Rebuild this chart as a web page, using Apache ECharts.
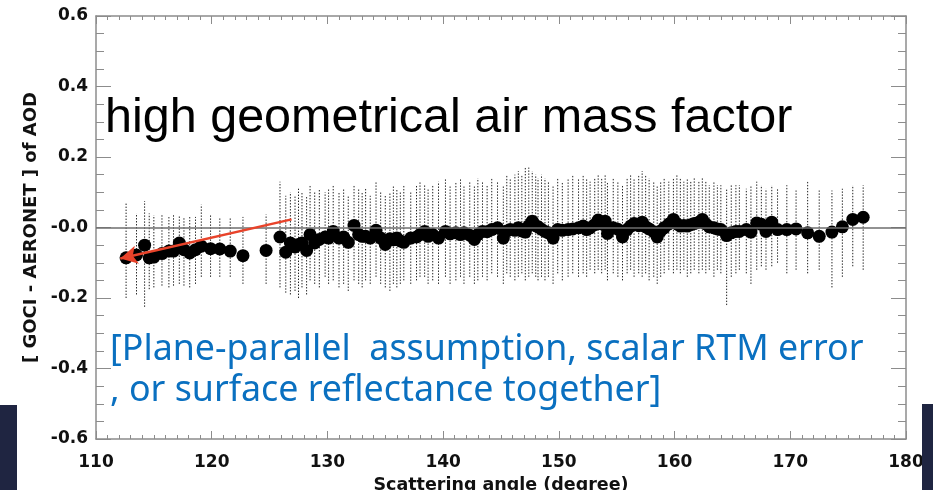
<!DOCTYPE html>
<html>
<head>
<meta charset="utf-8">
<script src="https://cdn.jsdelivr.net/npm/echarts@6/dist/echarts.min.js"></script>
<style>
  html, body { margin: 0; padding: 0; background: #ffffff; }
  #chart { width: 933px; height: 490px; }
</style>
</head>
<body>
<div id="chart"></div>
<script>
// Scattering angle (degree) of each bin
const angle = [
  112.6, 113.5, 114.2, 114.6, 115.0, 115.7, 116.3, 116.7, 117.2, 117.6,
  118.1, 118.6, 119.1, 119.9, 120.7, 121.6, 122.7, 124.7, 125.9, 126.4,
  126.8, 127.2, 127.5, 127.8, 128.2, 128.5, 128.9, 129.3, 129.8, 130.1,
  130.5, 131.0, 131.4, 131.8, 132.3, 132.7, 133.0, 133.3, 133.7, 134.2,
  134.6, 135.0, 135.4, 135.7, 136.0, 136.3, 136.6, 137.2, 137.7, 138.0,
  138.4, 138.7, 139.1, 139.6, 140.2, 140.6, 141.1, 141.5, 141.8, 142.3,
  142.7, 143.0, 143.4, 143.8, 144.2, 144.7, 145.2, 145.5, 145.8, 146.2,
  146.5, 146.8, 147.1, 147.4, 147.7, 148.0, 148.2, 148.5, 148.8, 149.1,
  149.5, 149.9, 150.3, 150.8, 151.2, 151.7, 152.1, 152.4, 152.7, 153.1,
  153.4, 153.7, 154.0, 154.2, 154.7, 155.1, 155.5, 155.9, 156.2, 156.5,
  156.9, 157.2, 157.5, 157.8, 158.2, 158.5, 158.8, 159.1, 159.5, 159.9,
  160.2, 160.5, 160.8, 161.1, 161.4, 161.7, 162.1, 162.4, 162.7, 163.0,
  163.4, 163.7, 164.0, 164.5, 164.9, 165.3, 165.6, 166.2, 166.6, 167.1,
  167.5, 167.9, 168.4, 168.9, 169.7, 170.5, 171.5, 172.5, 173.6, 174.5,
  175.4, 176.3
];

// Mean AOD difference (GOCI - AERONET) per bin
const aodDiff = [
  -0.086, -0.078, -0.050, -0.086, -0.084, -0.074, -0.067, -0.067, -0.044, -0.063,
  -0.072, -0.063, -0.053, -0.060, -0.061, -0.067, -0.080, -0.065, -0.027, -0.070,
  -0.044, -0.055, -0.048, -0.044, -0.065, -0.020, -0.044, -0.034, -0.027, -0.030,
  -0.011, -0.030, -0.027, -0.042, 0.006, -0.020, -0.025, -0.025, -0.030, -0.008,
  -0.030, -0.048, -0.032, -0.035, -0.030, -0.038, -0.042, -0.030, -0.027, -0.020,
  -0.011, -0.025, -0.020, -0.030, -0.011, -0.018, -0.015, -0.020, -0.015, -0.022,
  -0.034, -0.020, -0.011, -0.012, -0.006, -0.001, -0.030, -0.010, -0.006, -0.008,
  -0.001, -0.010, -0.013, 0.005, 0.018, 0.005, 0.002, -0.005, -0.011, -0.015,
  -0.030, -0.006, -0.008, -0.006, -0.004, -0.001, 0.004, -0.006, -0.001, 0.008,
  0.021, 0.010, 0.018, -0.017, -0.001, -0.005, -0.027, -0.006, 0.004, 0.011,
  0.005, 0.015, 0.002, -0.004, -0.012, -0.027, -0.010, -0.001, 0.010, 0.023,
  0.010, 0.004, 0.006, 0.004, 0.008, 0.011, 0.015, 0.023, 0.010, 0.002,
  -0.001, -0.004, -0.006, -0.023, -0.015, -0.011, -0.011, -0.006, -0.013, 0.013,
  0.009, -0.011, 0.015, -0.006, -0.006, -0.004, -0.015, -0.025, -0.013, 0.002,
  0.023, 0.029
];

// Upper end of each error bar
const errHigh = [
  0.070, 0.040, 0.075, 0.040, 0.035, 0.035, 0.030, 0.035, 0.035, 0.030,
  0.030, 0.030, 0.065, 0.037, 0.026, 0.026, 0.030, 0.037, 0.130, 0.090,
  0.100, 0.090, 0.110, 0.100, 0.090, 0.120, 0.100, 0.110, 0.100, 0.110,
  0.120, 0.100, 0.110, 0.090, 0.120, 0.110, 0.100, 0.110, 0.090, 0.130,
  0.100, 0.090, 0.100, 0.120, 0.110, 0.100, 0.120, 0.100, 0.120, 0.130,
  0.120, 0.110, 0.120, 0.130, 0.140, 0.120, 0.130, 0.140, 0.120, 0.130,
  0.120, 0.140, 0.130, 0.120, 0.140, 0.130, 0.120, 0.150, 0.140, 0.150,
  0.160, 0.150, 0.170, 0.170, 0.160, 0.150, 0.140, 0.150, 0.140, 0.130,
  0.120, 0.140, 0.130, 0.140, 0.150, 0.140, 0.150, 0.140, 0.130, 0.140,
  0.150, 0.140, 0.150, 0.130, 0.140, 0.130, 0.120, 0.140, 0.150, 0.140,
  0.150, 0.160, 0.150, 0.140, 0.130, 0.120, 0.130, 0.140, 0.130, 0.140,
  0.150, 0.140, 0.130, 0.140, 0.130, 0.140, 0.130, 0.140, 0.130, 0.120,
  0.130, 0.120, 0.120, 0.110, 0.120, 0.120, 0.120, 0.110, 0.120, 0.130,
  0.120, 0.110, 0.120, 0.110, 0.120, 0.105, 0.130, 0.105, 0.105, 0.110,
  0.120, 0.120
];

// Lower end of each error bar
const errLow = [
  -0.200, -0.190, -0.225, -0.175, -0.170, -0.165, -0.170, -0.165, -0.160, -0.165,
  -0.170, -0.160, -0.140, -0.140, -0.140, -0.140, -0.160, -0.160, -0.170, -0.185,
  -0.190, -0.180, -0.200, -0.170, -0.190, -0.150, -0.160, -0.170, -0.140, -0.160,
  -0.150, -0.170, -0.160, -0.180, -0.150, -0.160, -0.170, -0.150, -0.160, -0.140,
  -0.160, -0.170, -0.180, -0.160, -0.170, -0.160, -0.150, -0.160, -0.150, -0.140,
  -0.140, -0.160, -0.150, -0.160, -0.140, -0.160, -0.150, -0.140, -0.160, -0.140,
  -0.160, -0.150, -0.140, -0.150, -0.130, -0.140, -0.160, -0.130, -0.140, -0.150,
  -0.140, -0.130, -0.150, -0.140, -0.130, -0.140, -0.150, -0.140, -0.150, -0.140,
  -0.160, -0.130, -0.150, -0.140, -0.130, -0.140, -0.130, -0.140, -0.120, -0.130,
  -0.120, -0.130, -0.120, -0.150, -0.130, -0.140, -0.150, -0.130, -0.120, -0.140,
  -0.130, -0.140, -0.130, -0.150, -0.140, -0.160, -0.140, -0.130, -0.120, -0.130,
  -0.120, -0.130, -0.120, -0.140, -0.130, -0.120, -0.130, -0.120, -0.130, -0.120,
  -0.140, -0.120, -0.130, -0.220, -0.140, -0.130, -0.120, -0.130, -0.160, -0.120,
  -0.110, -0.120, -0.110, -0.100, -0.130, -0.120, -0.130, -0.120, -0.170, -0.140,
  -0.110, -0.120
];

// Axis tick labels
const xTickLabels = ['110', '120', '130', '140', '150', '160', '170', '180'];
const yTickLabels = ['-0.6', '-0.4', '-0.2', '-0.0', '0.2', '0.4', '0.6'];

// Annotation arrow: tail and head in data coordinates
const arrowTail = [126.9, 0.023];
const arrowHead = [112.1, -0.088];

// Annotation texts
const headline = 'high geometrical air mass factor';
const noteLines = ['[Plane-parallel  assumption, scalar RTM error', ', or surface reflectance together]'];

const axisGray = '#8c8c8c';
const tickFont = { fontFamily: 'DejaVu Sans', fontWeight: 'bold', fontSize: 17, color: '#111' };

const chart = echarts.init(document.getElementById('chart'), null, { renderer: 'canvas' });

const points = angle.map((a, i) => [a, aodDiff[i]]);
const bars = angle.map((a, i) => [a, errLow[i], errHigh[i]]);

function xAxisBase(pos, showLabel) {
  return {
    type: 'value', position: pos, min: 110, max: 180, interval: 10,
    axisLine: { show: true, onZero: false, lineStyle: { color: axisGray, width: 1.5 } },
    axisTick: { show: true, inside: true, length: 8, lineStyle: { color: axisGray, width: 1 } },
    minorTick: { show: true, splitNumber: 10, length: 4, lineStyle: { color: axisGray, width: 1 } },
    splitLine: { show: false },
    axisLabel: showLabel ? Object.assign({
      margin: 15,
      formatter: v => xTickLabels[Math.round((v - 110) / 10)]
    }, tickFont) : { show: false }
  };
}

function yAxisBase(pos, showLabel) {
  return {
    type: 'value', position: pos, min: -0.6, max: 0.6, interval: 0.2,
    axisLine: { show: true, onZero: false, lineStyle: { color: axisGray, width: 1.5 } },
    axisTick: { show: true, inside: true, length: 15, lineStyle: { color: axisGray, width: 1 } },
    minorTick: { show: true, splitNumber: 4, length: 8, lineStyle: { color: axisGray, width: 1 } },
    splitLine: { show: false },
    axisLabel: showLabel ? Object.assign({
      margin: 8,
      formatter: v => yTickLabels[Math.round((v + 0.6) / 0.2)]
    }, tickFont) : { show: false }
  };
}

const xBottom = xAxisBase('bottom', true);
xBottom.name = 'Scattering angle (degree)';
xBottom.nameLocation = 'middle';
xBottom.nameGap = 37;
xBottom.nameTextStyle = { fontFamily: 'DejaVu Sans', fontWeight: 'bold', fontSize: 17.5, color: '#111' };

const yLeft = yAxisBase('left', true);
yLeft.name = '[ GOCI - AERONET ] of AOD';
yLeft.nameLocation = 'middle';
yLeft.nameGap = 56;
yLeft.nameTextStyle = { fontFamily: 'DejaVu Sans', fontWeight: 'bold', fontSize: 18, color: '#111' };

const option = {
  backgroundColor: '#ffffff',
  animation: false,
  grid: { left: 96, top: 16, width: 810, height: 423, containLabel: false, outerBoundsMode: 'none' },
  xAxis: [xBottom, xAxisBase('top', false)],
  yAxis: [yLeft, yAxisBase('right', false)],
  graphic: [
    // dark panel edges at the lower corners
    { type: 'rect', left: 0, top: 405, shape: { width: 17, height: 85 }, style: { fill: '#1f2541' }, z: 1 },
    { type: 'rect', left: 922, top: 404, shape: { width: 11, height: 86 }, style: { fill: '#1f2541' }, z: 1 },
    {
      type: 'text', left: 105, top: 94, z: 20,
      style: { text: headline, fontFamily: 'Liberation Sans', fontSize: 48.5, fill: '#000' }
    },
    {
      type: 'text', left: 110, top: 332, z: 20,
      style: { text: noteLines[0], fontFamily: 'Noto Sans', fontSize: 35.8, fill: '#0a70c0' }
    },
    {
      type: 'text', left: 110, top: 373, z: 20,
      style: { text: noteLines[1], fontFamily: 'Noto Sans', fontSize: 35.8, fill: '#0a70c0' }
    }
  ],
  series: [
    {
      // dotted error bars
      type: 'custom',
      xAxisIndex: 0, yAxisIndex: 0,
      data: bars,
      z: 2,
      silent: true,
      renderItem: function (params, api) {
        const lo = api.coord([api.value(0), api.value(1)]);
        const hi = api.coord([api.value(0), api.value(2)]);
        return {
          type: 'line',
          shape: { x1: lo[0], y1: lo[1], x2: hi[0], y2: hi[1] },
          style: { stroke: '#222', lineWidth: 1, lineDash: [1.4, 1.6] }
        };
      }
    },
    {
      type: 'scatter',
      xAxisIndex: 0, yAxisIndex: 0,
      data: points,
      symbol: 'circle',
      symbolSize: 13,
      itemStyle: { color: '#000', opacity: 1 },
      z: 3,
      silent: true,
      markLine: {
        silent: true,
        symbol: ['none', 'none'],
        label: { show: false },
        lineStyle: { color: '#6e6e6e', width: 1.5, type: 'solid' },
        data: [{ yAxis: 0 }]
      }
    },
    {
      // red annotation arrow
      type: 'line',
      xAxisIndex: 0, yAxisIndex: 0,
      data: [],
      z: 10,
      markLine: {
        silent: true,
        symbol: ['none', 'arrow'],
        symbolSize: [14, 17],
        label: { show: false },
        lineStyle: { color: '#e8432a', width: 2.5, type: 'solid' },
        data: [[{ coord: arrowTail }, { coord: arrowHead }]]
      }
    }
  ]
};

chart.setOption(option);
</script>
</body>
</html>
